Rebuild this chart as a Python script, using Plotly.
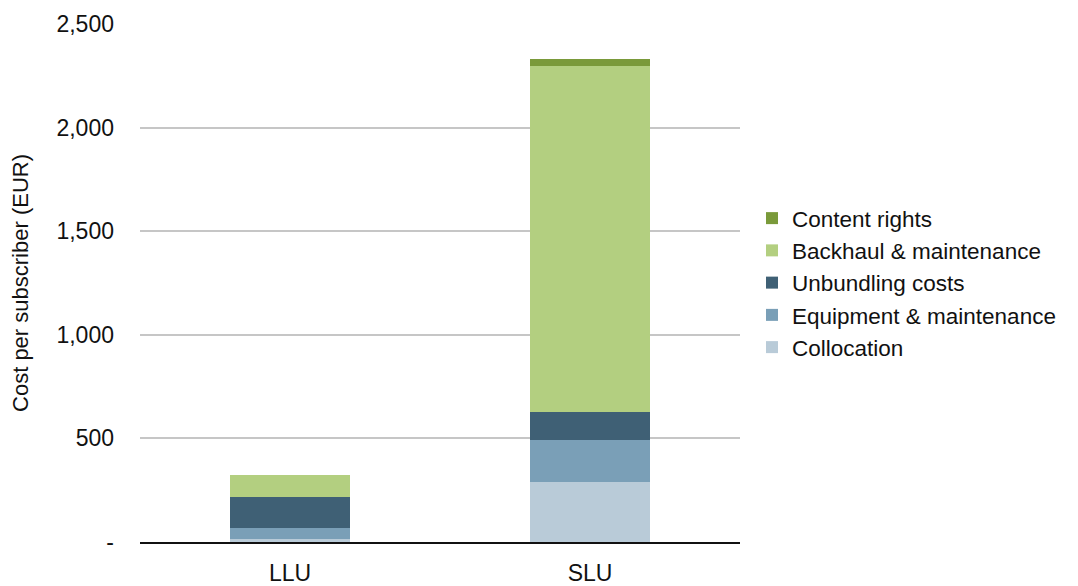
import plotly.graph_objects as go

# Cost per subscriber by unbundling approach (EUR)
categories = ["LLU", "SLU"]
collocation = [13, 290]
equipment = [55, 202]
unbundling = [150, 135]
backhaul = [106, 1670]
content_rights = [0, 34]

series = [
    ("Collocation", collocation, "#b9cbd8"),
    ("Equipment & maintenance", equipment, "#7a9fb7"),
    ("Unbundling costs", unbundling, "#3f6075"),
    ("Backhaul & maintenance", backhaul, "#b3cf80"),
    ("Content rights", content_rights, "#7a9a3a"),
]

y_ticks = [0, 500, 1000, 1500, 2000, 2500]
y_tick_text = ["-", "500", "1,000", "1,500", "2,000", "2,500"]

FONT = "Liberation Sans, Arial, Helvetica, sans-serif"

fig = go.Figure()
for name, vals, color in series:
    fig.add_trace(go.Bar(
        x=categories, y=vals, name=name,
        marker=dict(color=color, line=dict(width=0)),
    ))

fig.update_layout(
    barmode="stack",
    bargap=0.6,
    width=1078, height=586,
    margin=dict(l=140, r=338, t=24, b=44),
    paper_bgcolor="white", plot_bgcolor="white",
    font=dict(family=FONT, color="#111111", size=23),
    legend=dict(
        traceorder="reversed",
        x=1.02, y=0.5, xanchor="left", yanchor="middle",
        font=dict(size=22.5),
        itemwidth=30,
        borderwidth=0,
    ),
    xaxis=dict(
        automargin=False,
        showgrid=False, showline=True, linecolor="#111111", linewidth=2,
        tickfont=dict(size=23), ticks="", ticklabelstandoff=9,
    ),
    yaxis=dict(
        automargin=False,
        range=[0, 2500], tickvals=y_ticks, ticktext=y_tick_text,
        showgrid=True, gridcolor="#c6c6c6", gridwidth=2,
        zeroline=False, showline=False, ticks="",
        tickfont=dict(size=23), ticklabelstandoff=25,
        title=dict(text="Cost per subscriber (EUR)", font=dict(size=22), standoff=21),
    ),
)

fig.write_html("out.html")
